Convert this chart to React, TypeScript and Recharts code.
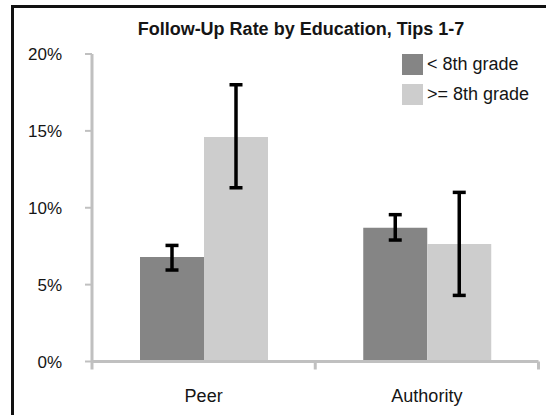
import { BarChart, Bar, XAxis, YAxis, ErrorBar, Legend } from "recharts";

// values (percent)
const categories = ["Peer", "Authority"];
const below8 = [6.8, 8.7];
const below8Low = [5.95, 7.9];
const below8High = [7.55, 9.55];
const above8 = [14.6, 7.65];
const above8Low = [11.3, 4.3];
const above8High = [18.0, 11.0];
const yTicks = [0, 5, 10, 15, 20];

const COLORS = {
    below: "#858585",
    above: "#cdcdcd",
    axis: "#c0c0c0",
    text: "#151515",
};

const FONT = "'Liberation Sans', Arial, sans-serif";

const data = categories.map((name, i) => ({
    name,
    below: below8[i],
    belowErr: [below8[i] - below8Low[i], below8High[i] - below8[i]],
    above: above8[i],
    aboveErr: [above8[i] - above8Low[i], above8High[i] - above8[i]],
}));

// square swatches, one row each, like the original
const LegendBox = ({ payload }: { payload?: { value?: string; color?: string }[] }) => (
    <div style={{ fontFamily: FONT, fontSize: 18, color: COLORS.text }}>
        {(payload || []).map((item, i) => (
            <div key={i} style={{ display: "flex", alignItems: "center", height: 21, marginBottom: 9 }}>
                <div style={{ width: 21, height: 21, background: item.color, marginRight: 4 }} />
                <span>{item.value}</span>
            </div>
        ))}
    </div>
);

// category label plus excel-style tick marks on the band edges
const CategoryTick = (props: any) => {
    const { x, y, payload, index, width, visibleTicksCount } = props;
    const count = visibleTicksCount || categories.length;
    const band = width / count;
    const axisY = y - 28;
    const left = x - band / 2;
    const right = x + band / 2;
    return (
        <g>
            <line x1={left} x2={left} y1={axisY} y2={axisY + 8} stroke={COLORS.axis} strokeWidth={3} />
            {index === count - 1 && (
                <line x1={right} x2={right} y1={axisY} y2={axisY + 8} stroke={COLORS.axis} strokeWidth={3} />
            )}
            <text x={x} y={y} dy="0.71em" textAnchor="middle" fill={COLORS.text} fontSize={18} fontFamily={FONT}>
                {payload.value}
            </text>
        </g>
    );
};

export default function App() {
    return (
        <div
            style={{
                position: "absolute",
                left: 0,
                top: 0,
                width: 546,
                height: 415,
                overflow: "hidden",
                background: "#fff",
            }}
        >
            <div
                style={{
                    position: "absolute",
                    left: 11,
                    top: 5,
                    width: 700,
                    height: 600,
                    borderLeft: "3px solid #111",
                    borderTop: "3px solid #111",
                }}
            />
            <div
                style={{
                    position: "absolute",
                    left: 0,
                    top: 20,
                    width: 602,
                    textAlign: "center",
                    fontFamily: FONT,
                    fontWeight: "bold",
                    fontSize: 18,
                    lineHeight: "18px",
                    color: COLORS.text,
                }}
            >
                Follow-Up Rate by Education, Tips 1-7
            </div>
            <div style={{ position: "absolute", left: 0, top: 0 }}>
                <BarChart
                    width={546}
                    height={415}
                    data={data}
                    margin={{ top: 54, right: 7.5, left: 22, bottom: 13.5 }}
                    barCategoryGap="21.5%"
                    barGap={0}
                >
                    <XAxis
                        dataKey="name"
                        height={40}
                        axisLine={{ stroke: COLORS.axis, strokeWidth: 3 }}
                        tickLine={false}
                        tickSize={0}
                        tickMargin={28}
                        tick={<CategoryTick />}
                    />
                    <YAxis
                        width={70}
                        domain={[0, 20]}
                        ticks={yTicks}
                        tickFormatter={(v) => `${v}%`}
                        axisLine={{ stroke: COLORS.axis, strokeWidth: 3 }}
                        tickLine={{ stroke: COLORS.axis, strokeWidth: 2 }}
                        tickSize={7}
                        tickMargin={23}
                        tick={{ fill: COLORS.text, fontSize: 17, fontFamily: FONT }}
                    />
                    {/* center + middle so the legend takes no room from the plot */}
                    <Legend
                        verticalAlign="middle"
                        align="center"
                        layout="horizontal"
                        wrapperStyle={{ position: "absolute", left: 402, top: 54, width: 140 }}
                        content={<LegendBox />}
                    />
                    <Bar dataKey="below" name="< 8th grade" fill={COLORS.below} isAnimationActive={false}>
                        <ErrorBar dataKey="belowErr" width={6.5} stroke="#000" strokeWidth={3.5} direction="y" />
                    </Bar>
                    <Bar dataKey="above" name=">= 8th grade" fill={COLORS.above} isAnimationActive={false}>
                        <ErrorBar dataKey="aboveErr" width={6.5} stroke="#000" strokeWidth={3.5} direction="y" />
                    </Bar>
                </BarChart>
            </div>
        </div>
    );
}
